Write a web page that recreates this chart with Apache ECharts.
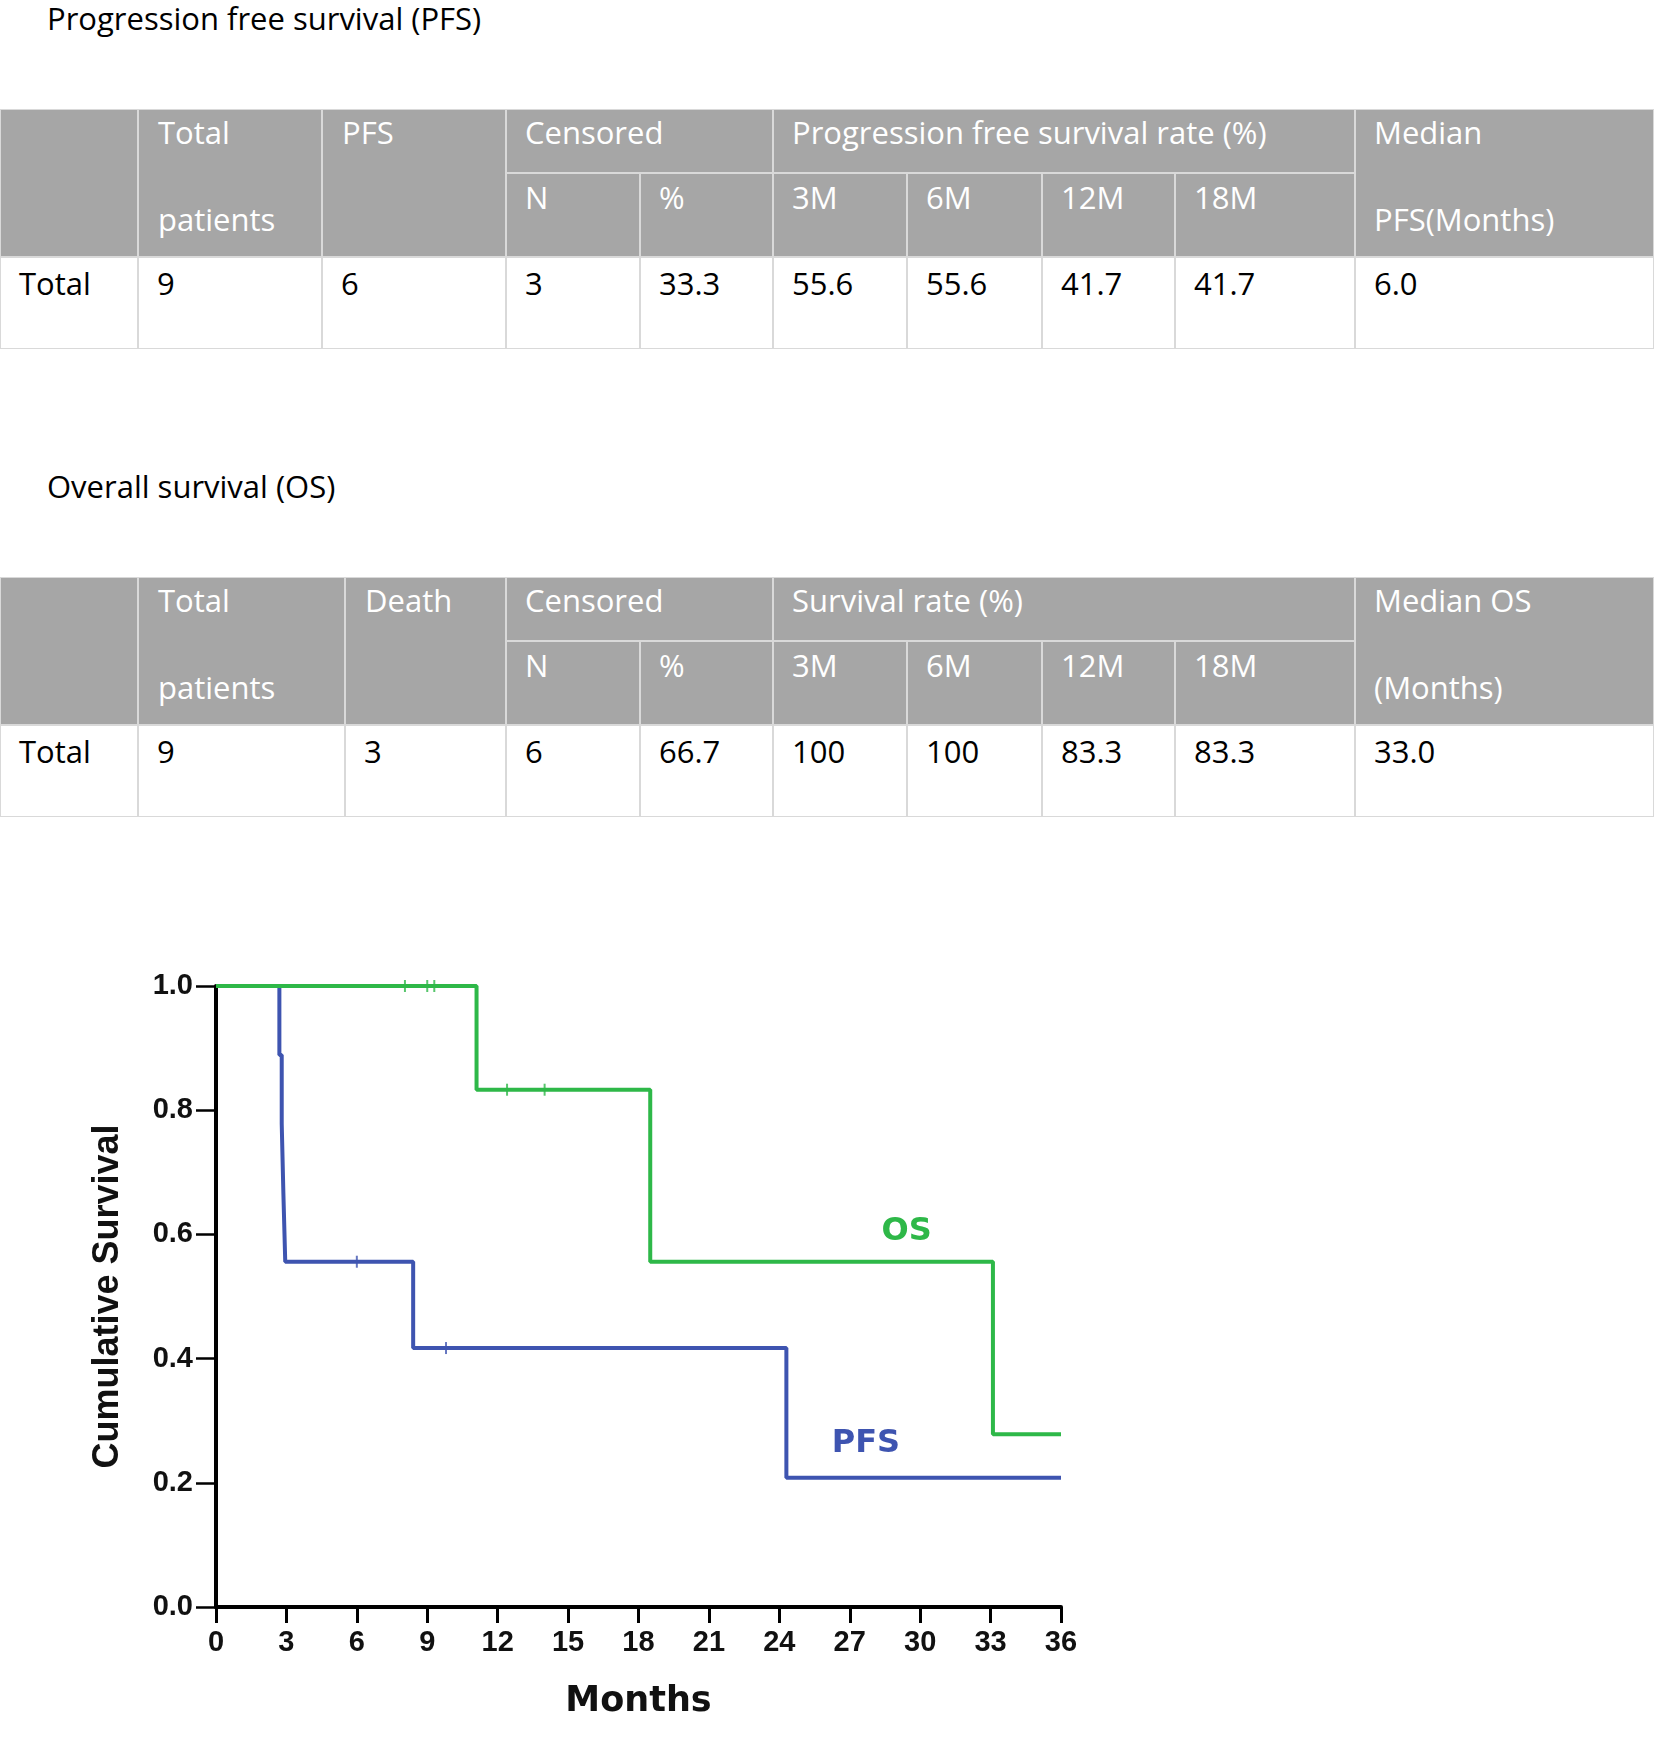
<!DOCTYPE html>
<html>
<head>
<meta charset="utf-8">
<script src="https://cdn.jsdelivr.net/npm/echarts@6/dist/echarts.min.js"></script>
<style>
    body { margin: 0; background: #fff; }
    #page { position: relative; width: 1654px; height: 1762px; overflow: hidden; font-family: "Open Sans", sans-serif; }
    .cell { position: absolute; box-sizing: border-box; border: 1px solid #d9d9d9; background: #fff; }
    .head { background: #a6a6a6; }
    .txt { position: absolute; font-size: 31px; line-height: 31px; white-space: nowrap; color: #000; }
    .head .txt { color: #fff; }
</style>
</head>
<body>
<div id="page">
    <div id="chart" style="position:absolute;left:0;top:880px;width:1200px;height:882px;"></div>
</div>
<script>
// table texts
var pfsTitle = 'Progression free survival (PFS)';
var osTitle = 'Overall survival (OS)';
var rateLabels = ['3M', '6M', '12M', '18M'];
var pfsHead = ['PFS', 'Progression free survival rate (%)', 'Median', 'PFS(Months)'];
var osHead = ['Death', 'Survival rate (%)', 'Median OS', '(Months)'];
var pfsRow = ['Total', '9', '6', '3', '33.3', '55.6', '55.6', '41.7', '41.7', '6.0'];
var osRow = ['Total', '9', '3', '6', '66.7', '100', '100', '83.3', '83.3', '33.0'];

// Kaplan-Meier curves (months, cumulative survival)
var pfsTime = [0, 2.7, 2.8, 2.87, 2.95, 8.4, 24.3, 36];
var pfsSurv = [1, 0.889, 0.778, 0.667, 0.556, 0.417, 0.208, 0.208];
var pfsCensorTime = [6.0, 9.8];
var pfsCensorSurv = [0.556, 0.417];
var osTime = [0, 11.1, 18.5, 33.1, 36];
var osSurv = [1, 0.833, 0.556, 0.278, 0.278];
var osCensorTime = [8.05, 9.0, 9.3, 12.4, 14.0];
var osCensorSurv = [1, 1, 1, 0.833, 0.833];

var pfsColor = '#3e54b0';
var osColor = '#2eb848';

var page = document.getElementById('page');

function addText(parent, text, left, center) {
    var t = document.createElement('div');
    t.className = 'txt';
    t.textContent = text;
    t.style.left = left + 'px';
    t.style.top = (center - 16.5) + 'px';
    parent.appendChild(t);
}

function addCell(x0, x1, y0, y1, isHead, lines) {
    var c = document.createElement('div');
    c.className = 'cell' + (isHead ? ' head' : '');
    c.style.left = x0 + 'px';
    c.style.top = y0 + 'px';
    c.style.width = (x1 - x0) + 'px';
    c.style.height = (y1 - y0) + 'px';
    page.appendChild(c);
    for (var i = 0; i < lines.length; i++) {
        addText(c, lines[i][0], lines[i][1], lines[i][2]);
    }
}

function drawTable(top, cols, head, row) {
    var r1 = top + 64, r2 = top + 148, r3 = top + 240;
    var pad = 19;
    addCell(cols[0], cols[1], top, r2, true, []);
    addCell(cols[1], cols[2], top, r2, true, [['Total', pad, 23], ['patients', pad, 110]]);
    addCell(cols[2], cols[3], top, r2, true, [[head[0], pad, 23]]);
    addCell(cols[3], cols[5], top, r1, true, [['Censored', pad - 1, 23]]);
    addCell(cols[5], cols[9], top, r1, true, [[head[1], pad - 1, 23]]);
    addCell(cols[9], cols[10], top, r2, true, [[head[2], pad - 1, 23], [head[3], pad - 1, 110]]);
    var sub = ['N', '%'].concat(rateLabels);
    for (var i = 0; i < sub.length; i++) {
        addCell(cols[3 + i], cols[4 + i], r1, r2, true, [[sub[i], pad - 1, 24.5]]);
    }
    for (var j = 0; j < row.length; j++) {
        addCell(cols[j], cols[j + 1], r2, r3, false, [[row[j], j == 0 ? 18 : pad - 1, 26.5]]);
    }
}

addText(page, pfsTitle, 47, 19.5);
addText(page, osTitle, 47, 487);
drawTable(109, [0, 138, 322, 506, 640, 773, 907, 1042, 1175, 1355, 1654], pfsHead, pfsRow);
drawTable(577, [0, 138, 345, 506, 640, 773, 907, 1042, 1175, 1355, 1654], osHead, osRow);

function pairs(xs, ys) {
    return xs.map(function (x, i) { return [x, ys[i]]; });
}

var tickFont = { fontFamily: 'Liberation Sans', fontWeight: 'bold', fontSize: 29, color: '#111' };

var option = {
    animation: false,
    grid: { left: 216, top: 106, width: 845, height: 621 },
    xAxis: {
        type: 'value', min: 0, max: 36, interval: 3,
        name: 'Months', nameLocation: 'middle', nameGap: 77,
        nameTextStyle: { fontFamily: 'DejaVu Sans', fontWeight: 'bold', fontSize: 35, color: '#111' },
        axisLine: { lineStyle: { color: '#000', width: 4 } },
        axisTick: { length: 16, lineStyle: { color: '#000', width: 3 } },
        axisLabel: Object.assign({ margin: 21 }, tickFont),
        splitLine: { show: false }
    },
    yAxis: {
        type: 'value', min: 0, max: 1, interval: 0.2,
        name: 'Cumulative Survival', nameLocation: 'middle', nameGap: 90, nameRotate: 90,
        nameTextStyle: { fontFamily: 'Liberation Sans', fontWeight: 'bold', fontSize: 36, color: '#111' },
        axisLine: { show: true, lineStyle: { color: '#000', width: 4 } },
        axisTick: { show: true, length: 20, lineStyle: { color: '#000', width: 2.5 } },
        axisLabel: Object.assign({ margin: 23, padding: [5, 0, 0, 0], formatter: function (v) { return v.toFixed(1); } }, tickFont),
        splitLine: { show: false }
    },
    series: [
        {
            name: 'PFS', type: 'line', step: 'end', symbol: 'none', clip: false,
            data: pairs(pfsTime, pfsSurv),
            lineStyle: { color: pfsColor, width: 4 },
            markPoint: {
                symbol: 'circle', symbolSize: 1, itemStyle: { color: 'rgba(0,0,0,0)' },
                label: { show: true, position: 'inside', formatter: 'PFS', color: pfsColor,
                    fontFamily: 'DejaVu Sans', fontWeight: 'bold', fontSize: 32 },
                data: [{ coord: [27.69, 0.2625] }]
            }
        },
        {
            type: 'scatter', symbol: 'rect', symbolSize: [2, 12], clip: false,
            itemStyle: { color: pfsColor },
            data: pairs(pfsCensorTime, pfsCensorSurv)
        },
        {
            name: 'OS', type: 'line', step: 'end', symbol: 'none', clip: false,
            data: pairs(osTime, osSurv),
            lineStyle: { color: osColor, width: 4 },
            markPoint: {
                symbol: 'circle', symbolSize: 1, itemStyle: { color: 'rgba(0,0,0,0)' },
                label: { show: true, position: 'inside', formatter: 'OS', color: osColor,
                    fontFamily: 'DejaVu Sans', fontWeight: 'bold', fontSize: 32 },
                data: [{ coord: [29.42, 0.604] }]
            }
        },
        {
            type: 'scatter', symbol: 'rect', symbolSize: [2, 12], clip: false,
            itemStyle: { color: osColor },
            data: pairs(osCensorTime, osCensorSurv)
        }
    ]
};

var myChart = echarts.init(document.getElementById('chart'));
myChart.setOption(option);
</script>
</body>
</html>
